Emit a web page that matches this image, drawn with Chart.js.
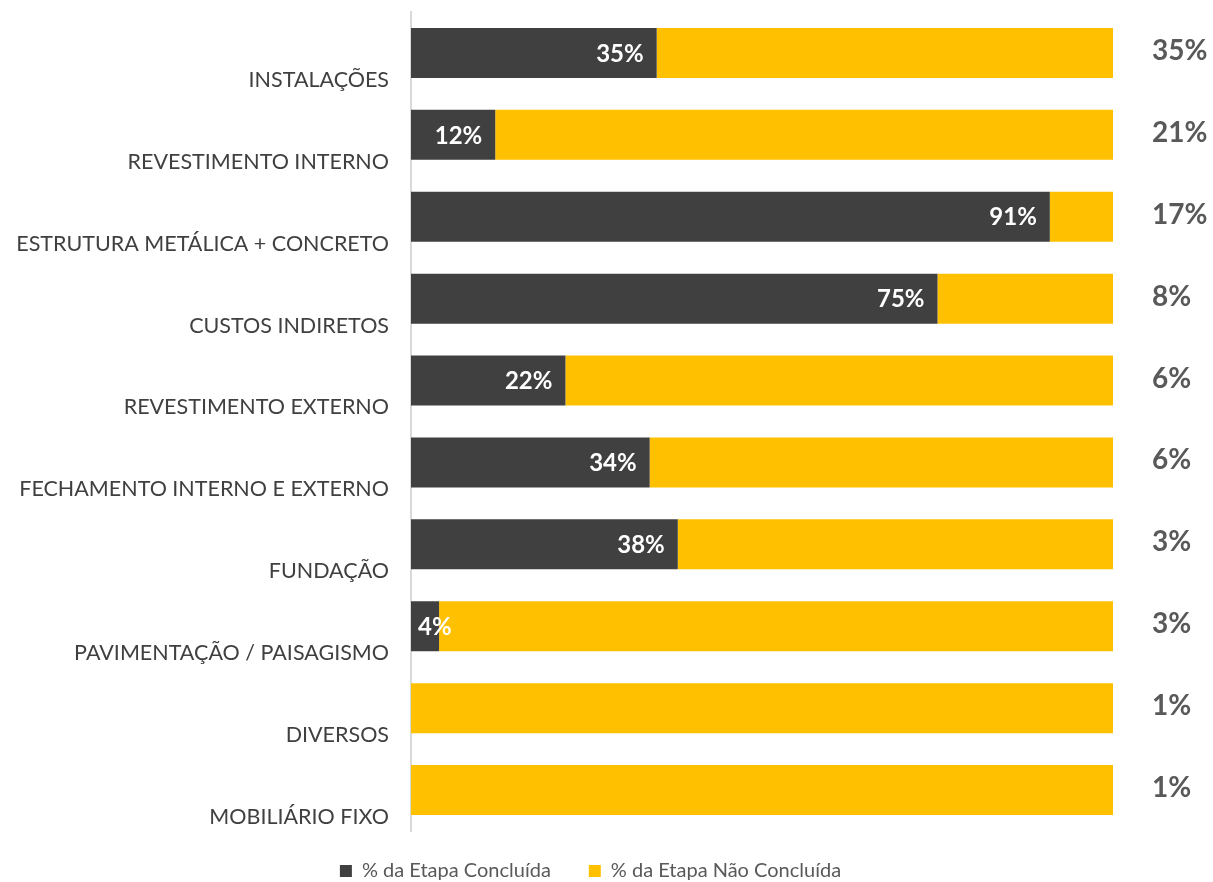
<!DOCTYPE html>
<html>
<head>
<meta charset="utf-8">
<script src="https://cdn.jsdelivr.net/npm/chart.js@4"></script>
<style>
    html, body { margin: 0; padding: 0; background: #fff; }
    #wrap { width: 1213px; height: 882px; }
</style>
</head>
<body>
<div id="wrap"><canvas id="etapasChart"></canvas></div>
<script>
//Etapas da obra
const etapas = ['INSTALAÇÕES', 'REVESTIMENTO INTERNO', 'ESTRUTURA METÁLICA + CONCRETO', 'CUSTOS INDIRETOS',
    'REVESTIMENTO EXTERNO', 'FECHAMENTO INTERNO E EXTERNO', 'FUNDAÇÃO', 'PAVIMENTAÇÃO / PAISAGISMO',
    'DIVERSOS', 'MOBILIÁRIO FIXO'];
const concluida = [35, 12, 91, 75, 22, 34, 38, 4, 0, 0];
const naoConcluida = [65, 88, 9, 25, 78, 66, 62, 96, 100, 100];
//Peso de cada etapa (coluna da direita)
const pesos = [35, 21, 17, 8, 6, 6, 3, 3, 1, 1];

const FONT = 'Lato, "DejaVu Sans", sans-serif';

//Labels dentro das barras + pesos a direita
const labelsPlugin = {
    id: 'labelsPlugin',
    afterLayout(chart) {
        //legenda um pouco mais a direita e acima
        const lg = chart.legend;
        lg.left += 34; lg.right += 34;
        lg.top -= 8; lg.bottom -= 8;
    },
    afterDatasetsDraw(chart) {
        const ctx = chart.ctx;
        const meta = chart.getDatasetMeta(0);
        ctx.save();
        ctx.textBaseline = 'middle';
        ctx.font = 'bold 24px ' + FONT;
        ctx.fillStyle = '#ffffff';
        ctx.textAlign = 'right';
        meta.data.forEach((bar, i) => {
            if (!concluida[i]) return;
            const txt = concluida[i] + '%';
            const w = ctx.measureText(txt).width;
            const x = Math.max(bar.x - 13, bar.base + 7 + w);
            ctx.fillText(txt, x, bar.y + 1);
        });
        ctx.font = 'bold 28px ' + FONT;
        ctx.fillStyle = '#595959';
        ctx.textAlign = 'left';
        meta.data.forEach((bar, i) => {
            ctx.fillText(pesos[i] + '%', chart.chartArea.right + 39, bar.y - 2);
        });
        ctx.restore();
    }
};

const ctx = document.getElementById('etapasChart').getContext('2d');
new Chart(ctx, {
    type: 'bar',
    data: {
        labels: etapas,
        datasets: [
            {
                label: '% da Etapa Concluída',
                data: concluida,
                backgroundColor: '#404040',
                barPercentage: 0.61,
                categoryPercentage: 1
            },
            {
                label: '% da Etapa Não Concluída',
                data: naoConcluida,
                backgroundColor: '#FFC000',
                barPercentage: 0.61,
                categoryPercentage: 1
            }
        ]
    },
    options: {
        indexAxis: 'y',
        responsive: true,
        maintainAspectRatio: false,
        animation: false,
        layout: {
            padding: { top: 12, right: 100, bottom: -17, left: 0 }
        },
        scales: {
            x: {
                stacked: true,
                min: 0,
                max: 100,
                display: false
            },
            y: {
                stacked: true,
                grid: { display: false, drawTicks: false },
                border: { display: true, color: '#D9D9D9', width: 2 },
                ticks: {
                    color: '#404040',
                    padding: 22,
                    labelOffset: 27,
                    font: { family: FONT, size: 21.5 }
                },
                afterFit(scale) {
                    scale.width = 411;
                    scale.paddingTop = 0;
                    scale.paddingBottom = 0;
                }
            }
        },
        plugins: {
            legend: {
                position: 'bottom',
                labels: {
                    boxWidth: 12,
                    boxHeight: 12,
                    padding: 38,
                    color: '#595959',
                    font: { family: FONT, size: 20 }
                }
            },
            tooltip: { enabled: false }
        }
    },
    plugins: [labelsPlugin]
});
</script>
</body>
</html>
